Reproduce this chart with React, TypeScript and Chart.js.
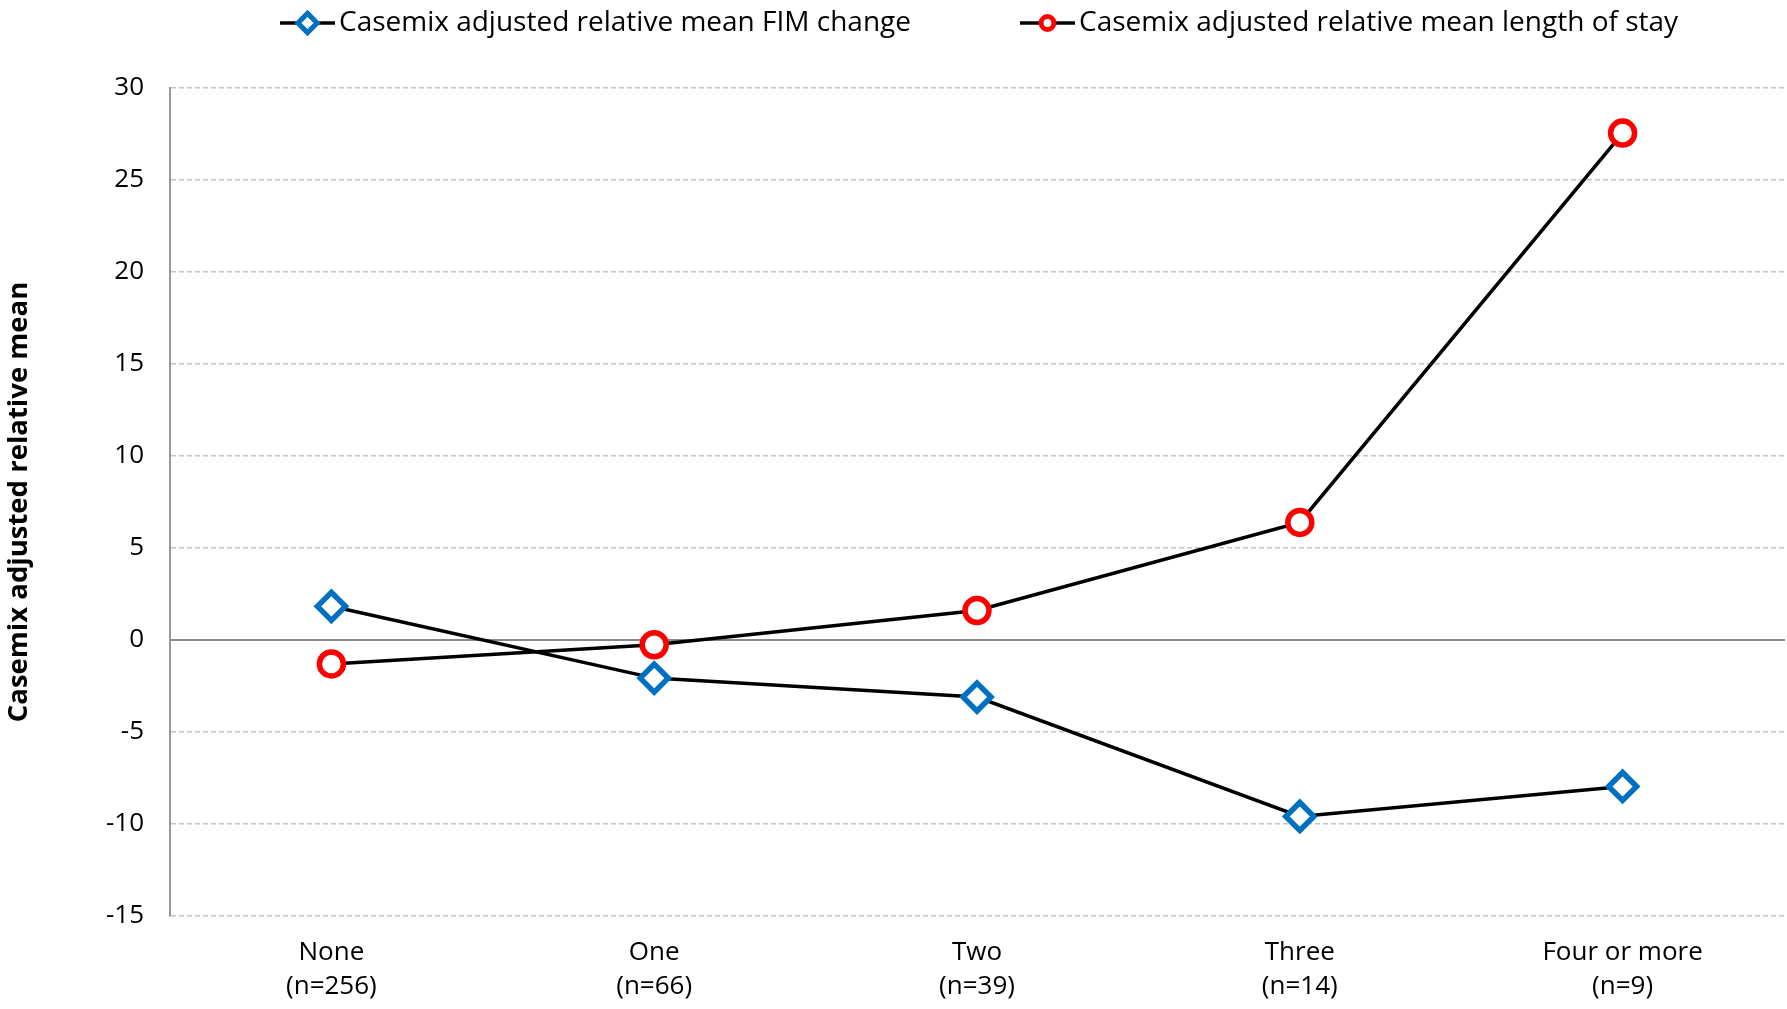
import React, { useEffect, useRef } from "react";
import { Chart, registerables } from "chart.js";
import { drawPoint } from "chart.js/helpers";

Chart.register(...registerables);

const categories: string[][] = [
  ["None", "(n=256)"],
  ["One", "(n=66)"],
  ["Two", "(n=39)"],
  ["Three", "(n=14)"],
  ["Four or more", "(n=9)"],
];
const fimChange: number[] = [1.83, -2.07, -3.1, -9.59, -7.96];
const lengthOfStay: number[] = [-1.3, -0.26, 1.6, 6.39, 27.55];
const seriesLabels: string[] = [
  "Casemix adjusted relative mean FIM change",
  "Casemix adjusted relative mean length of stay",
];
const yAxisTitle = "Casemix adjusted relative mean";
const yMin = -15;
const yMax = 30;
const yStep = 5;

const FONT = "'Open Sans', sans-serif";

const lineLegend = {
  id: "lineLegend",
  afterDraw(chart: any, _args: any, opts: any) {
    const ctx = chart.ctx as CanvasRenderingContext2D;
    ctx.save();
    ctx.font = `${opts.fontSize}px ${FONT}`;
    ctx.textBaseline = "middle";
    ctx.textAlign = "left";
    let x = opts.startX;
    chart.data.datasets.forEach((ds: any, i: number) => {
      ctx.lineWidth = opts.lineWidth;
      ctx.strokeStyle = ds.borderColor;
      ctx.beginPath();
      ctx.moveTo(x, opts.y);
      ctx.lineTo(x + opts.lineLen, opts.y);
      ctx.stroke();
      ctx.fillStyle = ds.pointBackgroundColor;
      ctx.strokeStyle = ds.pointBorderColor;
      ctx.lineWidth = opts.markerBorder;
      drawPoint(
        ctx,
        { pointStyle: ds.pointStyle, radius: opts.markerRadius[i], borderWidth: opts.markerBorder, rotation: 0 },
        x + opts.lineLen / 2,
        opts.y
      );
      ctx.fillStyle = "#000";
      const tx = x + opts.lineLen + opts.textGap;
      ctx.fillText(ds.label, tx, opts.y);
      x = tx + ctx.measureText(ds.label).width + opts.itemGap;
    });
    ctx.restore();
  },
};

export default function App() {
  const canvasRef = useRef<HTMLCanvasElement | null>(null);

  useEffect(() => {
    if (!canvasRef.current) return;
    const chart = new Chart(canvasRef.current, {
      type: "line",
      data: {
        labels: categories,
        datasets: [
          {
            label: seriesLabels[0],
            data: fimChange,
            borderColor: "#000000",
            borderWidth: 3.5,
            pointStyle: "rectRot",
            pointRadius: 14,
            pointHoverRadius: 14,
            pointBorderWidth: 5.5,
            pointBorderColor: "#0070C0",
            pointBackgroundColor: "#FFFFFF",
            tension: 0,
          },
          {
            label: seriesLabels[1],
            data: lengthOfStay,
            borderColor: "#000000",
            borderWidth: 3.5,
            pointStyle: "circle",
            pointRadius: 12,
            pointHoverRadius: 12,
            pointBorderWidth: 5.5,
            pointBorderColor: "#FF0000",
            pointBackgroundColor: "#FFFFFF",
            tension: 0,
          },
        ],
      },
      options: {
        animation: false,
        responsive: true,
        maintainAspectRatio: false,
        layout: { autoPadding: false, padding: { top: 88, right: 3, left: 0, bottom: 0 } },
        plugins: {
          legend: { display: false },
          tooltip: { enabled: false },
          lineLegend: {
            startX: 280,
            y: 23,
            lineLen: 55,
            lineWidth: 3.5,
            textGap: 4,
            itemGap: 109,
            fontSize: 28,
            markerRadius: [9.6, 6.4],
            markerBorder: 5,
          },
        } as any,
        scales: {
          x: {
            type: "category",
            offset: true,
            grid: { display: false, drawTicks: false },
            border: { display: false },
            ticks: {
              color: "#000",
              padding: 20,
              maxRotation: 0,
              autoSkip: false,
              font: { family: FONT, size: 26, lineHeight: 1.3 },
            },
            afterFit: (scale: any) => {
              scale.height = 93;
              scale.paddingLeft = 0;
              scale.paddingRight = 0;
            },
          },
          x0: {
            type: "category",
            axis: "x",
            position: { y: 0 },
            offset: true,
            grid: { display: false, drawTicks: false },
            ticks: { display: false },
            border: { display: true, color: "#888888", width: 2 },
          },
          y: {
            min: yMin,
            max: yMax,
            ticks: {
              stepSize: yStep,
              color: "#000",
              padding: 26,
              font: { family: FONT, size: 26 },
            },
            grid: {
              drawTicks: false,
              lineWidth: 1.5,
              color: (ctx: any) => (ctx.tick && ctx.tick.value === 0 ? "rgba(0,0,0,0)" : "#C4C4C4"),
            },
            border: { display: true, color: "#999999", width: 2, dash: [5, 3] },
            title: {
              display: true,
              text: yAxisTitle,
              color: "#000",
              padding: { top: 3, bottom: 0 },
              font: { family: FONT, size: 27.5, weight: "bold" },
            },
            afterFit: (scale: any) => {
              scale.width = 170;
            },
          },
        },
      } as any,
      plugins: [lineLegend],
    });
    return () => chart.destroy();
  }, []);

  return (
    <div style={{ position: "fixed", left: 0, top: 0, width: 1787, height: 1009, background: "#fff" }}>
      <canvas ref={canvasRef} />
    </div>
  );
}
